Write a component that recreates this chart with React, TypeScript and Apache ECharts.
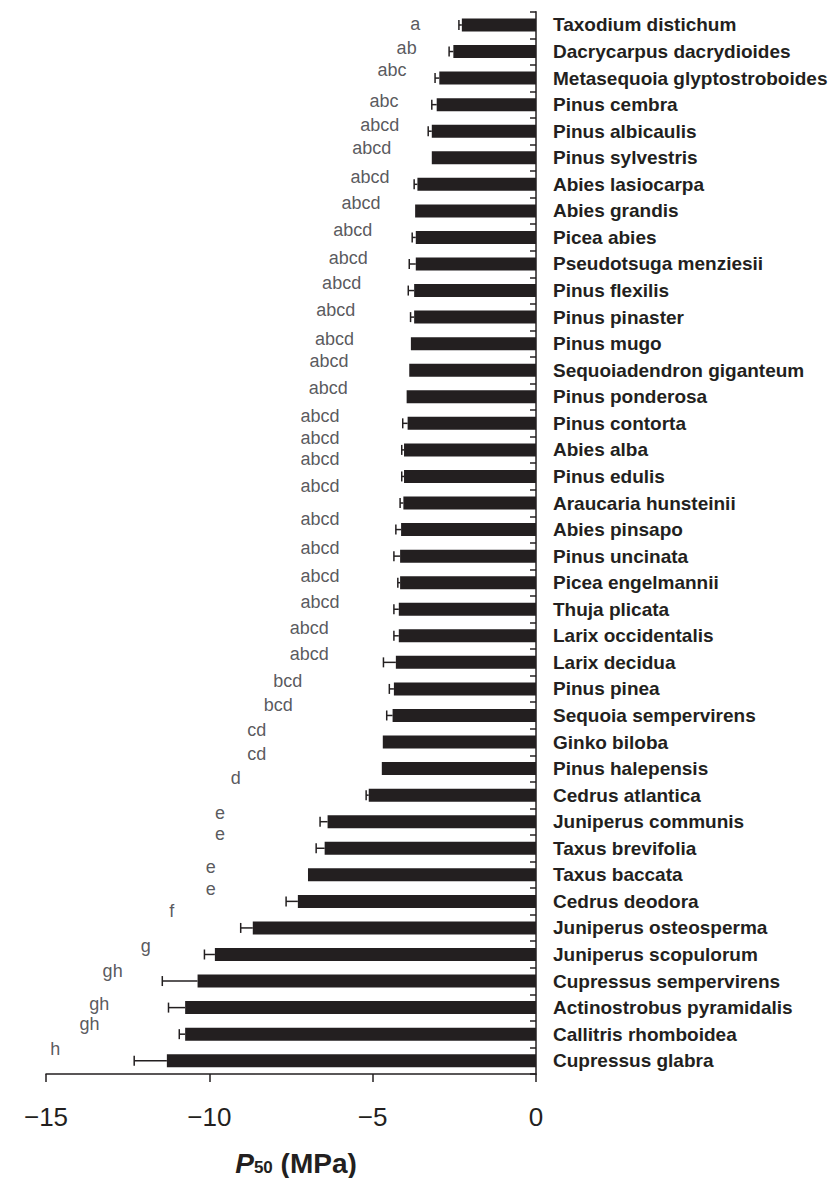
import React, { useEffect, useRef } from "react";
import * as echarts from "echarts";

const categories = [
  "Taxodium distichum",
  "Dacrycarpus dacrydioides",
  "Metasequoia glyptostroboides",
  "Pinus cembra",
  "Pinus albicaulis",
  "Pinus sylvestris",
  "Abies lasiocarpa",
  "Abies grandis",
  "Picea abies",
  "Pseudotsuga menziesii",
  "Pinus flexilis",
  "Pinus pinaster",
  "Pinus mugo",
  "Sequoiadendron giganteum",
  "Pinus ponderosa",
  "Pinus contorta",
  "Abies alba",
  "Pinus edulis",
  "Araucaria hunsteinii",
  "Abies pinsapo",
  "Pinus uncinata",
  "Picea engelmannii",
  "Thuja plicata",
  "Larix occidentalis",
  "Larix decidua",
  "Pinus pinea",
  "Sequoia sempervirens",
  "Ginko biloba",
  "Pinus halepensis",
  "Cedrus atlantica",
  "Juniperus communis",
  "Taxus brevifolia",
  "Taxus baccata",
  "Cedrus deodora",
  "Juniperus osteosperma",
  "Juniperus scopulorum",
  "Cupressus sempervirens",
  "Actinostrobus pyramidalis",
  "Callitris rhomboidea",
  "Cupressus glabra",
];

const p50 = [
  -2.27, -2.53, -2.96, -3.04, -3.19, -3.19, -3.63, -3.7, -3.68, -3.68,
  -3.73, -3.73, -3.83, -3.88, -3.96, -3.93, -4.04, -4.04, -4.06, -4.13,
  -4.16, -4.16, -4.2, -4.2, -4.29, -4.35, -4.39, -4.69, -4.72, -5.12,
  -6.38, -6.47, -6.98, -7.29, -8.67, -9.83, -10.36, -10.74, -10.74, -11.3,
];

const errLow = [
  0.09, 0.13, 0.13, 0.15, 0.11, 0, 0.1, 0, 0.11, 0.2,
  0.18, 0.11, 0, 0, 0, 0.15, 0.07, 0.07, 0.1, 0.16,
  0.19, 0.07, 0.15, 0.15, 0.38, 0.14, 0.18, 0, 0, 0.08,
  0.23, 0.26, 0, 0.36, 0.37, 0.32, 1.08, 0.51, 0.18, 1.0,
];

const letters = [
  "a", "ab", "abc", "abc", "abcd", "abcd", "abcd", "abcd", "abcd", "abcd",
  "abcd", "abcd", "abcd", "abcd", "abcd", "abcd", "abcd", "abcd", "abcd", "abcd",
  "abcd", "abcd", "abcd", "abcd", "abcd", "bcd", "bcd", "cd", "cd", "d",
  "e", "e", "e", "e", "f", "g", "gh", "gh", "gh", "h",
];

const letterX = [
  -3.7, -3.96, -4.41, -4.65, -4.78, -5.03, -5.08, -5.36, -5.61, -5.75,
  -5.95, -6.13, -6.17, -6.34, -6.36, -6.61, -6.61, -6.61, -6.61, -6.61,
  -6.61, -6.61, -6.61, -6.94, -6.94, -7.6, -7.89, -8.55, -8.55, -9.19,
  -9.67, -9.67, -9.96, -9.96, -11.15, -11.95, -12.96, -13.37, -13.67, -14.72,
];

const letterY = [
  -0.04, 0.85, 1.69, 2.85, 3.76, 4.64, 5.71, 6.69, 7.71, 8.76,
  9.7, 10.72, 11.82, 12.67, 13.67, 14.71, 15.55, 16.34, 17.37, 18.62,
  19.69, 20.76, 21.72, 22.7, 23.7, 24.71, 25.61, 26.56, 27.46, 28.37,
  29.66, 30.45, 31.7, 32.54, 33.36, 34.68, 35.64, 36.87, 37.62, 38.56,
];

const xTicks = { min: -15, max: 0, interval: 5 };

const INK = "#231f20";
const FONT = "'Liberation Sans', Arial, Helvetica, sans-serif";

export default function App() {
  const ref = useRef<HTMLDivElement>(null);

  useEffect(() => {
    document.body.style.margin = "0";
    const chart = echarts.init(ref.current!, null, { renderer: "svg" });

    const errData = p50.map((v, i) => [v, i, errLow[i]]);
    const letterData = letters.map((t, i) => ({
      value: [letterX[i], letterY[i]],
      name: t,
    }));

    chart.setOption({
      animation: false,
      backgroundColor: "#ffffff",
      textStyle: { fontFamily: FONT },
      grid: {
        left: 46,
        right: 300,
        top: 11.7,
        bottom: 104,
        containLabel: false,
        outerBoundsMode: "none",
      },
      xAxis: {
        type: "value",
        min: xTicks.min,
        max: xTicks.max,
        interval: xTicks.interval,
        position: "bottom",
        axisLine: { show: true, onZero: false, lineStyle: { color: INK, width: 1.5 } },
        axisTick: { show: true, length: 8, lineStyle: { color: INK, width: 1.5 } },
        splitLine: { show: false },
        axisLabel: {
          color: INK,
          fontSize: 26,
          fontFamily: FONT,
          margin: 30,
          formatter: (v: number) => (v < 0 ? "\u2212" + Math.abs(v) : String(v)),
        },
        name: "{p|P}{sub|50}{n| (MPa)}",
        nameLocation: "middle",
        nameGap: 74,
        nameTextStyle: {
          padding: [0, 0, 0, 10],
          rich: {
            p: {
              fontSize: 28,
              lineHeight: 30,
              fontWeight: "bold",
              fontStyle: "italic",
              color: INK,
              fontFamily: FONT,
            },
            sub: {
              fontSize: 17,
              lineHeight: 30,
              fontWeight: "bold",
              color: INK,
              fontFamily: FONT,
              padding: [9, 0, 0, 0],
            },
            n: {
              fontSize: 28,
              lineHeight: 30,
              fontWeight: "bold",
              color: INK,
              fontFamily: FONT,
            },
          },
        },
      },
      yAxis: [
        {
          type: "category",
          data: categories,
          inverse: true,
          position: "right",
          axisLine: { show: true, onZero: false, lineStyle: { color: INK, width: 1.5 } },
          axisTick: {
            show: true,
            inside: true,
            length: 6,
            lineStyle: { color: INK, width: 1.5 },
          },
          splitLine: { show: false },
          axisLabel: {
            color: INK,
            fontSize: 19,
            fontWeight: "bold",
            fontFamily: FONT,
            margin: 17,
            interval: 0,
          },
        },
        {
          type: "value",
          inverse: true,
          min: -0.5,
          max: categories.length - 0.5,
          show: false,
          axisLine: { onZero: false },
        },
      ],
      series: [
        {
          type: "bar",
          data: p50,
          yAxisIndex: 0,
          barWidth: 13,
          itemStyle: { color: INK },
          z: 2,
        },
        {
          type: "custom",
          yAxisIndex: 0,
          data: errData,
          encode: { x: 0, y: 1 },
          z: 3,
          renderItem: (params: any, api: any) => {
            const v = api.value(0);
            const idx = api.value(1);
            const e = api.value(2);
            if (!e) return { type: "group", children: [] };
            const start = api.coord([v, idx]);
            const end = api.coord([v - e, idx]);
            const half = 5;
            return {
              type: "group",
              children: [
                {
                  type: "line",
                  shape: { x1: start[0], y1: start[1], x2: end[0], y2: end[1] },
                  style: { stroke: INK, lineWidth: 1.5 },
                },
                {
                  type: "line",
                  shape: { x1: end[0], y1: end[1] - half, x2: end[0], y2: end[1] + half },
                  style: { stroke: INK, lineWidth: 1.5 },
                },
              ],
            };
          },
        },
        {
          type: "scatter",
          yAxisIndex: 1,
          data: letterData,
          symbolSize: 1,
          itemStyle: { color: "rgba(0,0,0,0)" },
          silent: true,
          label: {
            show: true,
            position: "inside",
            formatter: (p: any) => p.name,
            color: "#2e2e33",
            fontSize: 18,
            fontFamily: FONT,
          },
        },
      ],
    });

    return () => chart.dispose();
  }, []);

  return <div ref={ref} style={{ width: 836, height: 1178 }} />;
}
